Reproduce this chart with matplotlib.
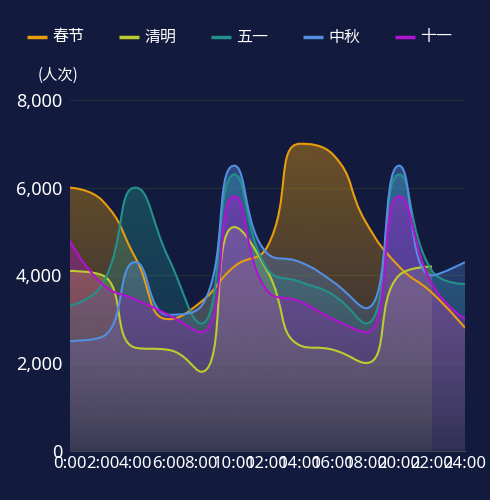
import numpy as np
import matplotlib
matplotlib.use('Agg')
import matplotlib.pyplot as plt
from matplotlib.path import Path
from matplotlib.patches import PathPatch
from matplotlib.colors import to_rgb
from matplotlib.ticker import FuncFormatter
from matplotlib.lines import Line2D

plt.rcParams['font.family'] = ['Noto Sans CJK SC', 'DejaVu Sans']

hours = ['0:00', '2:00', '4:00', '6:00', '8:00', '10:00', '12:00',
         '14:00', '16:00', '18:00', '20:00', '22:00', '24:00']
names = ['春节', '清明', '五一', '中秋', '十一']
spring = [6000, 5700, 4400, 3000, 3400, 4200, 4650, 7000, 6750, 5200, 4200, 3600, 2800]
qingming = [4100, 4000, 2350, 2300, 1800, 5100, 4100, 2400, 2300, 2000, 4000, 4200]
mayday = [3300, 3800, 6000, 4400, 2900, 6300, 4150, 3850, 3550, 2900, 6300, 4100, 3800]
midautumn = [2500, 2600, 4300, 3100, 3300, 6500, 4500, 4300, 3850, 3250, 6500, 4000, 4300]
national = [4800, 3800, 3450, 3100, 2700, 5800, 3650, 3400, 3000, 2700, 5800, 3800, 3000]
colors = ['#E89D0C', '#BCCB2E', '#23918A', '#548EE0', '#B412D2']

bg = '#121a3d'

fig = plt.figure(figsize=(4.9, 5.0), dpi=100, facecolor=bg)
ax = fig.add_axes([69.5 / 490, (500 - 450.7) / 500, (465 - 69.5) / 490, (450.7 - 99.9) / 500])
ax.set_facecolor(bg)
ax.set_xlim(0, len(hours) - 1)
ax.set_ylim(0, 8000)


def smooth_path(xs, ys, smooth=0.5):
    # echarts-style bezier smoothing, worked out in pixel space
    pts = ax.transData.transform(np.column_stack([xs, ys]))
    verts = [tuple(pts[0])]
    codes = [Path.MOVETO]
    cp0 = pts[0]
    n = len(pts)
    for i in range(1, n):
        x, y = pts[i]
        px, py = pts[i - 1]
        if i == n - 1:
            cp1 = (x, y)
            ncp0 = None
        else:
            nx, ny = pts[i + 1]
            vx, vy = nx - px, ny - py
            lp = np.hypot(x - px, y - py)
            ln = np.hypot(nx - x, ny - y)
            r = ln / (ln + lp)
            ncx = x + vx * smooth * r
            ncy = y + vy * smooth * r
            ncx = max(min(ncx, max(nx, x)), min(nx, x))
            ncy = max(min(ncy, max(ny, y)), min(ny, y))
            vx, vy = ncx - x, ncy - y
            c1x = x - vx * lp / ln
            c1y = y - vy * lp / ln
            c1x = max(min(c1x, max(px, x)), min(px, x))
            c1y = max(min(c1y, max(py, y)), min(py, y))
            cp1 = (c1x, c1y)
            vx, vy = x - c1x, y - c1y
            ncp0 = (x + vx * ln / lp, y + vy * ln / lp)
        verts += [tuple(cp0), cp1, (x, y)]
        codes += [Path.CURVE4] * 3
        cp0 = ncp0
    verts = ax.transData.inverted().transform(np.array(verts))
    return verts, codes


# grid
for v in [2000, 4000, 6000, 8000]:
    ax.axhline(v, color='#1f2d3b', lw=1, zorder=0)

all_series = [spring, qingming, mayday, midautumn, national]
for k, (vals, c) in enumerate(zip(all_series, colors)):
    xs = np.arange(len(vals))
    verts, codes = smooth_path(xs, vals)
    # area under the curve with vertical gradient
    area_verts = np.vstack([verts, [[xs[-1], 0], [xs[0], 0], [xs[0], 0]]])
    area_codes = codes + [Path.LINETO, Path.LINETO, Path.CLOSEPOLY]
    patch = PathPatch(Path(area_verts, area_codes), facecolor='none', edgecolor='none')
    ax.add_patch(patch)
    grad = np.zeros((256, 1, 4))
    grad[:, 0, :3] = to_rgb(c)
    grad[:, 0, 3] = np.linspace(0.08, 0.42, 256)
    im = ax.imshow(grad, extent=[xs[0], xs[-1], 0, max(vals)], origin='lower',
                   aspect='auto', interpolation='bilinear', zorder=2 + k)
    im.set_clip_path(patch)
    # lines sit above every area
    line = PathPatch(Path(verts, codes), facecolor='none', edgecolor=c, lw=1.5,
                     zorder=10 + k)
    ax.add_patch(line)

ax.set_xlim(0, len(hours) - 1)
ax.set_ylim(0, 8000)

ax.set_xticks(range(len(hours)))
ax.set_xticklabels(hours, fontsize=12, color='white', family='Noto Sans')
ax.set_yticks([0, 2000, 4000, 6000, 8000])
ax.yaxis.set_major_formatter(FuncFormatter(lambda v, p: f'{v:,.0f}'))
for t in ax.get_yticklabels():
    t.set_family('Noto Sans')
ax.tick_params(axis='x', length=0, pad=4)
ax.tick_params(axis='y', length=0, pad=5.4, labelsize=13, labelcolor='white')
for s in ['top', 'right', 'left']:
    ax.spines[s].set_visible(False)
ax.spines['bottom'].set_color('#3b4656')
ax.spines['bottom'].set_zorder(20)

fig.text(58 / 490, 1 - 75 / 500, '(人次)', ha='center', va='center',
         fontsize=11, color='white')

# legend
for k, (nm, c) in enumerate(zip(names, colors)):
    x0 = 27 + k * 92
    fig.add_artist(Line2D([x0 / 490, (x0 + 20) / 490], [1 - 37 / 500] * 2,
                          color=c, lw=2.5, solid_capstyle='butt'))
    fig.text((x0 + 25) / 490, 1 - 37 / 500, nm, ha='left', va='center',
             fontsize=11.5, color='white')

fig.savefig('out.png', dpi=100, facecolor=bg)
